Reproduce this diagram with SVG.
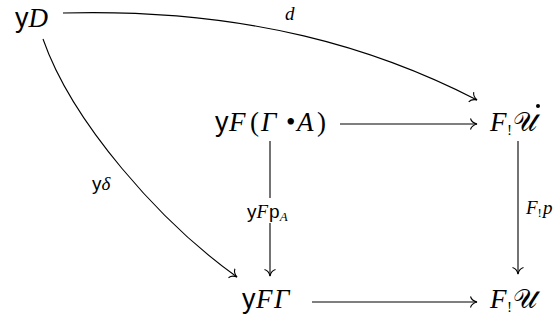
<svg xmlns="http://www.w3.org/2000/svg" width="556" height="320" viewBox="0 0 556 320">
<style>
text{fill:#000}
.sf{font-family:"Liberation Sans","DejaVu Sans",sans-serif}
.it{font-family:"Liberation Serif","DejaVu Serif",serif;font-style:italic}
.rm{font-family:"Liberation Serif","DejaVu Serif",serif}
.sc{font-family:"DejaVu Serif","DejaVu Sans","Noto Sans",serif}
.big{font-size:27px}
.lab{font-size:19px}
.sub{font-size:15px}
.sub2{font-size:13px}
.ar{fill:none;stroke:#000;stroke-width:1.1}
</style>
<defs>
<marker id="to" markerUnits="userSpaceOnUse" markerWidth="16" markerHeight="16" viewBox="-8 -8 16 16" refX="0" refY="0" orient="auto">
<path d="M-6.5,-5.5 C-5.5,-2 -2,-0.5 0,0 C-2,0.5 -5.5,2 -6.5,5.5" fill="none" stroke="#000" stroke-width="1.1"/>
</marker>
</defs>
<rect width="556" height="320" fill="#fff"/>
<g id="connectors">
<path class="ar" d="M63,13 C250,8 380,50 477,100" marker-end="url(#to)"/>
<text class="it lab" x="285" y="20">d</text>
<path class="ar" d="M43,39 C72,122 160,222 237,277" marker-end="url(#to)"/>
<text class="lab" x="92" y="190"><tspan class="sf">y</tspan><tspan class="it">δ</tspan></text>
<path class="ar" d="M340,124 H477" marker-end="url(#to)"/>
<path class="ar" d="M270,141 V276" marker-end="url(#to)"/>
<rect x="244" y="198" width="52" height="25" fill="#fff"/>
<text class="lab" x="247" y="218"><tspan class="sf">y</tspan><tspan class="it">F</tspan><tspan class="sf" dx="1">p</tspan><tspan class="it sub2" dy="3">A</tspan></text>
<path class="ar" d="M518,141 V274" marker-end="url(#to)"/>
<text class="lab" x="526" y="214"><tspan class="it">F</tspan><tspan class="rm sub2" dy="3">!</tspan><tspan class="it" dy="-3" dx="1">p</tspan></text>
<path class="ar" d="M312,302 H477" marker-end="url(#to)"/>
</g>
<g id="n-yD">
<text class="big" x="15" y="27"><tspan class="sf">y</tspan><tspan class="it">D</tspan></text>
</g>
<g id="n-yFGA">
<text class="big" y="131"><tspan class="sf" x="215">y</tspan><tspan class="it" x="229">F</tspan><tspan class="rm" x="250">(</tspan><tspan class="it" x="261">Γ</tspan><tspan class="rm" x="286">•</tspan><tspan class="it" x="297">A</tspan><tspan class="rm" x="317">)</tspan></text>
</g>
<g id="n-FUdot">
<text class="big" y="131"><tspan class="it" x="490">F</tspan><tspan class="rm sub" x="507" dy="4">!</tspan><tspan class="sc" x="513" dy="-4">𝒰</tspan></text>
<circle cx="538" cy="106" r="2"/>
</g>
<g id="n-yFG">
<text class="big" y="308"><tspan class="sf" x="242">y</tspan><tspan class="it" x="256">F</tspan><tspan class="it" x="274">Γ</tspan></text>
</g>
<g id="n-FU">
<text class="big" y="308"><tspan class="it" x="490">F</tspan><tspan class="rm sub" x="507" dy="4">!</tspan><tspan class="sc" x="513" dy="-4">𝒰</tspan></text>
</g>
</svg>
